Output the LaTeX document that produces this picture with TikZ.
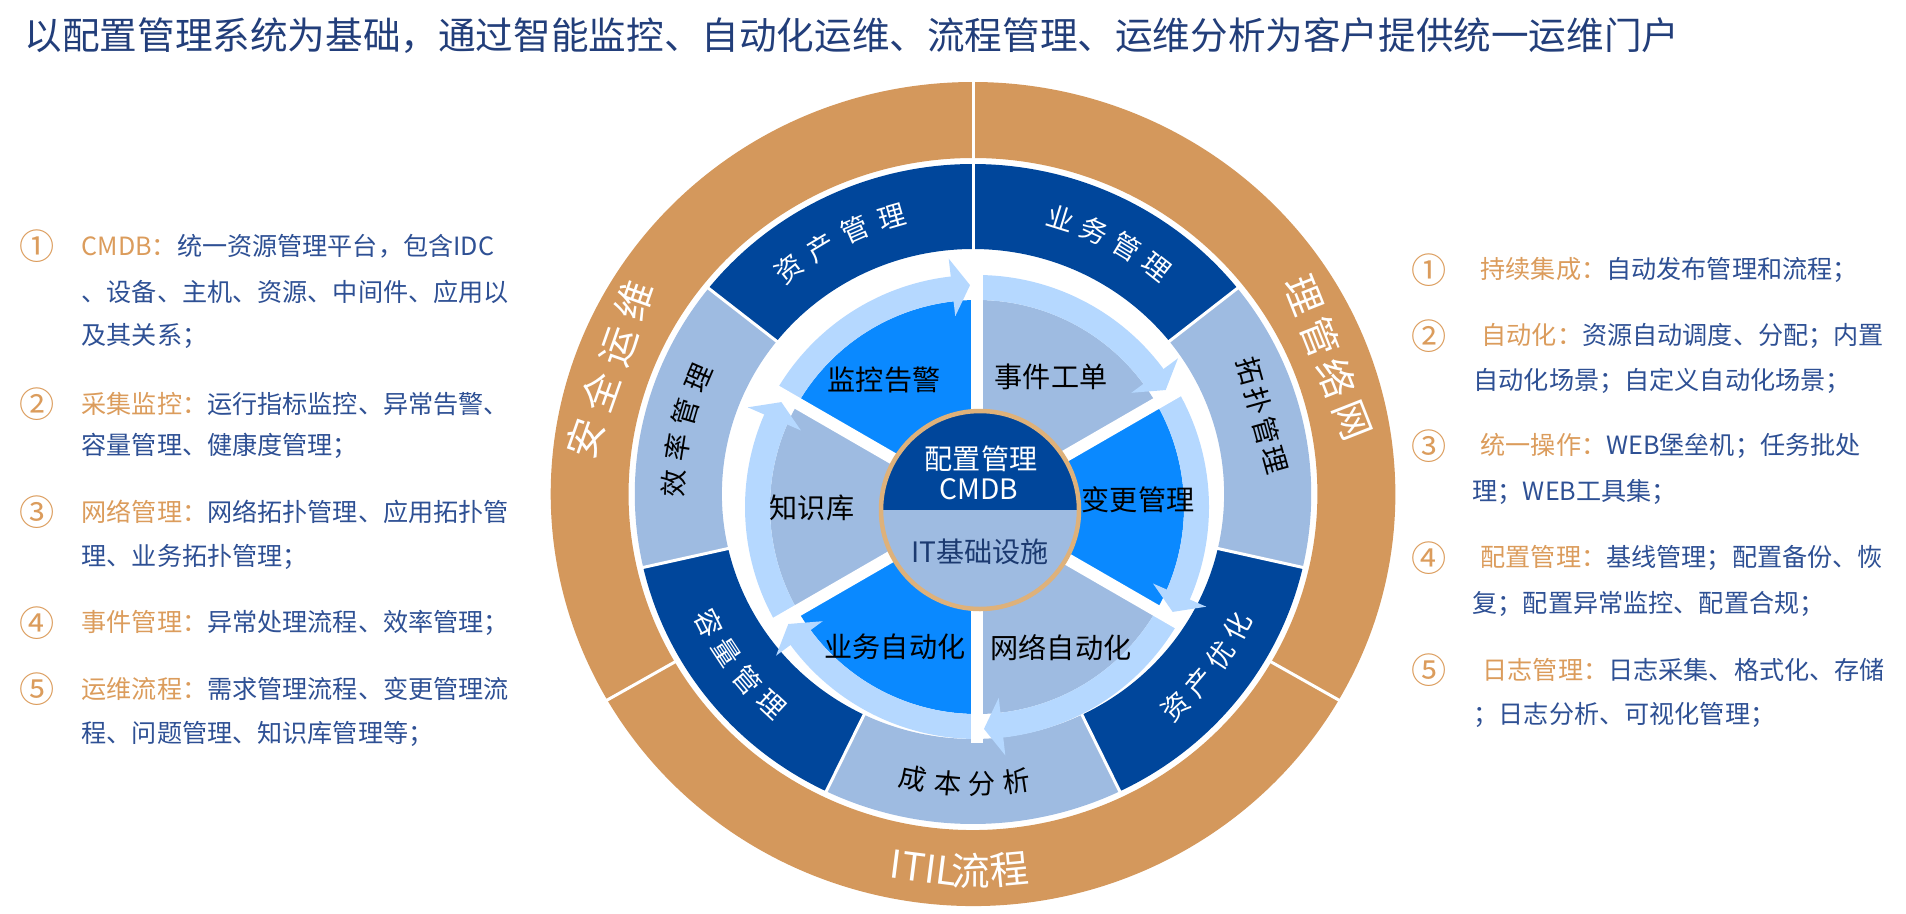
\documentclass[tikz,border=0pt]{standalone}
\usepackage{fontspec}
\setmainfont{Noto Sans CJK SC}
\usetikzlibrary{positioning}
\definecolor{ringorange}{RGB}{212,152,92}
\definecolor{segdark}{RGB}{0,70,155}
\definecolor{seglight}{RGB}{158,187,225}
\definecolor{segbright}{RGB}{10,137,255}
\definecolor{bandpale}{RGB}{181,216,255}
\definecolor{cmdbrim}{RGB}{222,177,122}
\definecolor{infranavy}{RGB}{28,58,112}
\definecolor{titleblue}{RGB}{34,62,122}
\definecolor{bodyblue}{RGB}{46,80,148}
\definecolor{labelorange}{RGB}{219,156,92}
\newcommand{\sidelbl}[1]{\textcolor{labelorange}{#1}}
\tikzset{
  titletext/.style={anchor=west, inner sep=0pt,
    font=\fontsize{10.7}{12}\selectfont, text=titleblue},
  sidetext/.style={anchor=west, inner sep=0pt,
    font=\fontsize{7.15}{9}\selectfont, text=bodyblue},
  sidenum/.style={inner sep=0pt,
    font=\fontsize{10}{11}\selectfont, text=labelorange},
  segtext/.style={inner sep=0pt, font=\fontsize{8}{9}\selectfont, text=black},
  ringchar/.style={inner sep=0pt, font=\fontsize{7.8}{9}\selectfont},
  bigchar/.style={inner sep=0pt, font=\fontsize{11}{12}\selectfont, text=white},
  sepline/.style={white, line width=0.3mm},
  wedgegap/.style={white, line width=1.2mm},
}

\begin{document}
\begin{tikzpicture}[x=0.1mm, y=0.1mm]
\useasboundingbox (0,0) rectangle (1906,913);

% title
\node[titletext] (title) at (24,877) {以配置管理系统为基础，通过智能监控、自动化运维、流程管理、运维分析为客户提供统一运维门户};

% outer rings
\begin{scope}[shift={(973,419)}, xscale=1.025]
  \foreach \a in {90,210,330}
    \fill[ringorange] (\a:412) arc[start angle=\a, end angle=\a+120, radius=412]
      -- ({\a+120}:336) arc[start angle=\a+120, end angle=\a, radius=336] -- cycle;
  \foreach \c [count=\i from 0] in {segdark,seglight,segdark,seglight,segdark,seglight,segdark} {
    \pgfmathsetmacro{\a}{90+\i*360/7}
    \fill[\c] (\a:330) arc[start angle=\a, end angle=\a+360/7, radius=330]
      -- ({\a+360/7}:245) arc[start angle=\a+360/7, end angle=\a, radius=245] -- cycle;
  }
  \foreach \i in {0,...,6}
    \draw[sepline] ({90+\i*360/7}:243) -- ({90+\i*360/7}:332);
  \foreach \a in {90,210,330}
    \draw[sepline] (\a:334) -- (\a:414);

  % ring labels
  \node[bigchar, rotate=70.6] (anquan) at (160.6:376)
    {安\hspace{1mm}全\hspace{1mm}运\hspace{1mm}维};
  \node[bigchar, rotate=-68.5] (wangluo) at (21.5:373)
    {理\hspace{0.6mm}管\hspace{0.6mm}络\hspace{0.6mm}网};
  \foreach \ch/\t [count=\k] in {ITIL/262.7, 流/269.7, 程/275.4}
    \node[bigchar, rotate=\t+90] (itil\k) at (\t:377) {\ch};

  \foreach \ch/\t [count=\k] in {资/128.5, 产/121, 管/113.5, 理/106}
    \node[ringchar, text=white, rotate=\t-90] (zichan\k) at (\t:288) {\ch};
  \foreach \ch/\t [count=\k] in {业/72.8, 务/65.8, 管/58.8, 理/51.8}
    \node[ringchar, text=white, rotate=\t-90] (yewu\k) at (\t:289) {\ch};
  \node[ringchar, text=black, rotate=-74.5] (tuopu) at (15.5:293)
    {拓\hspace{0.35mm}扑\hspace{0.35mm}管\hspace{0.35mm}理};
  \foreach \ch/\t [count=\k] in {效/177.9, 率/170.8, 管/163.7, 理/156.6}
    \node[ringchar, text=black, rotate=\t-90] (xiaolv\k) at (\t:292) {\ch};
  \foreach \ch/\t [count=\k] in {容/206.6, 量/213.4, 管/220.2, 理/227}
    \node[ringchar, text=white, rotate=\t+90] (rongliang\k) at (\t:288) {\ch};
  \foreach \ch/\t [count=\k] in {成/258.4, 本/265.1, 分/271.8, 析/278.5}
    \node[ringchar, text=black, rotate=\t+90] (chengben\k) at (\t:290) {\ch};
  \foreach \ch/\t [count=\k] in {资/313, 产/319.6, 优/326.2, 化/332.8}
    \node[ringchar, text=white, rotate=\t+90] (youhua\k) at (\t:290) {\ch};
\end{scope}

% inner wheel
\begin{scope}[shift={(977,406)}]
  \foreach \a/\c in {150/segbright, 90/seglight, 30/segbright, -30/seglight, -90/segbright, 210/seglight} {
    \fill[\c] (0,0) -- (\a:207) arc[start angle=\a, end angle=\a-60, radius=207] -- cycle;
    \fill[bandpale] (\a:207) arc[start angle=\a, end angle=\a-54, radius=207]
      -- ({\a-54}:232) arc[start angle=\a-54, end angle=\a, radius=232] -- cycle;
    \fill[bandpale] ({\a-53.5}:192) -- ({\a-58.2}:222) -- ({\a-53.5}:250) -- cycle;
  }
  \foreach \a in {90,30,-30,-90,-150,150}
    \draw[wedgegap] (0,0) -- (\a:236);

  % CMDB core
  \begin{scope}[shift={(3,-3)}]
    \fill[segdark] (0:99) arc[start angle=0, end angle=180, radius=99] -- cycle;
    \fill[seglight] (180:99) arc[start angle=180, end angle=360, radius=99] -- cycle;
    \draw[cmdbrim, line width=0.45mm] (0,0) circle[radius=99];
  \end{scope}
  \node[segtext, text=white] (pzgl) at (4,48) {配置管理};
  \node[segtext, text=white] (cmdb) at (2,18) {CMDB};
  \node[segtext, text=infranavy] (itjc) at (3,-45) {IT基础设施};

  \node[segtext] (jkgj) at (-93,127) {监控告警};
  \node[segtext] (sjgd) at (74,130) {事件工单};
  \node[segtext] (bggl) at (161,7) {变更管理};
  \node[segtext] (zsk) at (-165,-1) {知识库};
  \node[segtext] (ywzd) at (-82,-140) {业务自动化};
  \node[segtext] (wlzd) at (84,-141) {网络自动化};
\end{scope}

% left column
\node[sidenum] (ln1) at (37,667) {①};
\node[sidetext] (lt1a) at (81,667) {\sidelbl{CMDB：}统一资源管理平台，包含IDC};
\node[sidetext] (lt1b) at (81,621) {、设备、主机、资源、中间件、应用以};
\node[sidetext] (lt1c) at (81,577) {及其关系；};
\node[sidenum] (ln2) at (37,509) {②};
\node[sidetext] (lt2a) at (81,509) {\sidelbl{采集监控：}运行指标监控、异常告警、};
\node[sidetext] (lt2b) at (81,467) {容量管理、健康度管理；};
\node[sidenum] (ln3) at (37,401) {③};
\node[sidetext] (lt3a) at (81,401) {\sidelbl{网络管理：}网络拓扑管理、应用拓扑管};
\node[sidetext] (lt3b) at (81,356) {理、业务拓扑管理；};
\node[sidenum] (ln4) at (37,290) {④};
\node[sidetext] (lt4a) at (81,290) {\sidelbl{事件管理：}异常处理流程、效率管理；};
\node[sidenum] (ln5) at (37,224) {⑤};
\node[sidetext] (lt5a) at (81,224) {\sidelbl{运维流程：}需求管理流程、变更管理流};
\node[sidetext] (lt5b) at (81,179) {程、问题管理、知识库管理等；};

% right column
\node[sidenum] (rn1) at (1429,643) {①};
\node[sidetext] (rt1a) at (1480,643) {\sidelbl{持续集成：}自动发布管理和流程；};
\node[sidenum] (rn2) at (1429,577) {②};
\node[sidetext] (rt2a) at (1481,577) {\sidelbl{自动化：}资源自动调度、分配；内置};
\node[sidetext] (rt2b) at (1473,532) {自动化场景；自定义自动化场景；};
\node[sidenum] (rn3) at (1429,467) {③};
\node[sidetext] (rt3a) at (1480,467) {\sidelbl{统一操作：}WEB堡垒机；任务批处};
\node[sidetext] (rt3b) at (1472,421) {理；WEB工具集；};
\node[sidenum] (rn4) at (1429,355) {④};
\node[sidetext] (rt4a) at (1480,355) {\sidelbl{配置管理：}基线管理；配置备份、恢};
\node[sidetext] (rt4b) at (1472,309) {复；配置异常监控、配置合规；};
\node[sidenum] (rn5) at (1429,243) {⑤};
\node[sidetext] (rt5a) at (1482,243) {\sidelbl{日志管理：}日志采集、格式化、存储};
\node[sidetext] (rt5b) at (1473,198) {；日志分析、可视化管理；};
\end{tikzpicture}
\end{document}
